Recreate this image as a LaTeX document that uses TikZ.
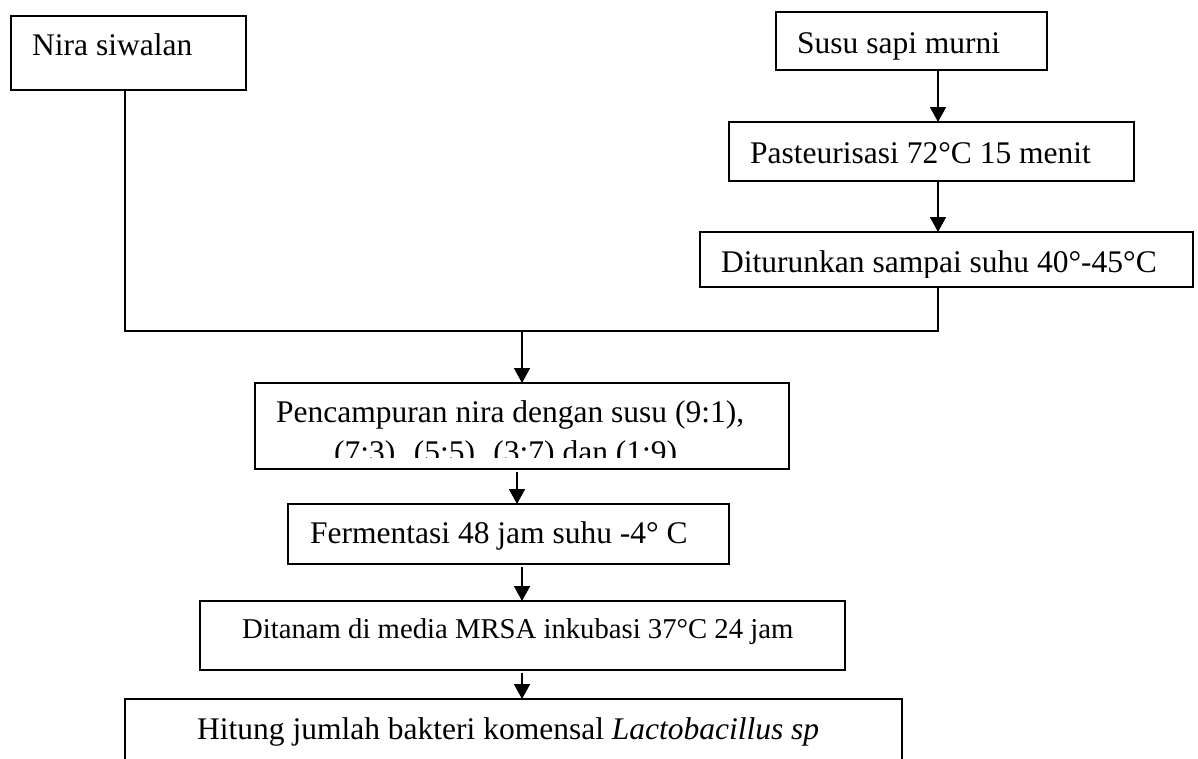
\documentclass[tikz,border=0pt]{standalone}
\usepackage{fontspec}
\setmainfont{Liberation Serif}
\usetikzlibrary{arrows.meta}
\begin{document}
\begin{tikzpicture}[x=1pt,y=-1pt,
  box/.style={draw,line width=1.6pt,inner sep=0pt,outer sep=0pt,anchor=north west},
  lbl/.style={anchor=base west,inner sep=0pt,font=\fontsize{31.5}{38}\selectfont},
  conn/.style={line width=1.6pt},
  arr/.style={line width=1.6pt,-{Triangle[width=16pt,length=15pt]}}]
\clip (0,0) rectangle (1198,758);
\fill[white] (0,0) rectangle (1198,758);
% boxes
\node[box,minimum width=235pt,minimum height=74pt] (nira) at (11,16) {};
\node[box,minimum width=271pt,minimum height=58pt] (susu) at (776,12) {};
\node[box,minimum width=405pt,minimum height=59pt] (past) at (729,122) {};
\node[box,minimum width=493pt,minimum height=55pt] (dit) at (700,232) {};
\node[box,minimum width=534pt,minimum height=86pt] (pen) at (255,383) {};
\node[box,minimum width=441pt,minimum height=60pt] (fer) at (288,504) {};
\node[box,minimum width=645pt,minimum height=69pt] (tan) at (200,601) {};
\node[box,minimum width=777pt,minimum height=100pt] (hit) at (125,699) {};
% texts
\node[lbl] (nira-t) at (32,55) {Nira siwalan};
\node[lbl] (susu-t) at (797,53) {Susu sapi murni};
\node[lbl] (past-t) at (750,163) {Pasteurisasi 72°C 15 menit};
\begin{scope}
\clip (690,240) rectangle (1190,277);
\node[lbl] (dit-t) at (721,272) {Diturunkan sampai suhu 40°-45°C};
\end{scope}
\node[lbl] (pen-t1) at (276,422) {Pencampuran nira dengan susu (9:1),};
\begin{scope}
\clip (260,430) rectangle (780,457);
\node[lbl] (pen-t2) at (334,462) {(7:3). (5:5). (3:7) dan (1:9)};
\end{scope}
\node[lbl] (fer-t) at (310,543) {Fermentasi 48 jam suhu -4° C};
\node[lbl,font=\fontsize{28.7}{35}\selectfont] (tan-t) at (242,638) {Ditanam di media MRSA inkubasi 37°C 24 jam};
\node[lbl] (hit-t) at (197,739) {Hitung jumlah bakteri komensal \textit{Lactobacillus sp}};
% connectors
\coordinate (ax) at (938,0);
\coordinate (lx) at (125,0);
\coordinate (jn) at (522,331);
\coordinate (jb) at (517,0);
\draw[arr] (susu.south -| ax) -- (past.north -| ax);
\draw[arr] (past.south -| ax) -- (dit.north -| ax);
\draw[conn] (nira.south -| lx) |- (jn) -| (dit.south -| ax);
\draw[arr] (jn) -- (pen.north -| jn);
\draw[arr,shorten <=3pt] (pen.south -| jb) -- (fer.north -| jb);
\draw[arr,shorten <=3pt] (fer.south -| jn) -- (tan.north -| jn);
\draw[arr,shorten <=3pt] (tan.south -| jn) -- (hit.north -| jn);
\end{tikzpicture}
\end{document}
